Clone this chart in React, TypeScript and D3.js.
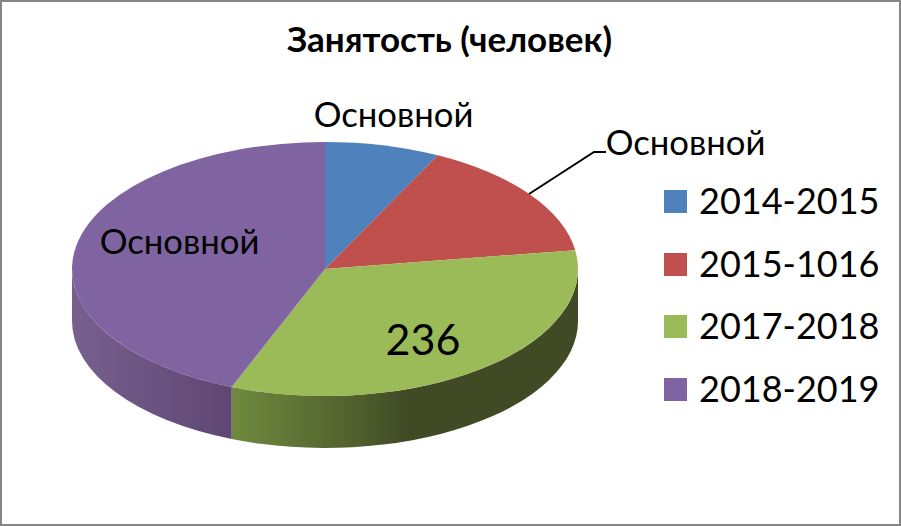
import React from 'react';
import * as d3 from 'd3';

const categories = ['2014-2015', '2015-1016', '2017-2018', '2018-2019'];
const values = [52, 108, 236, 311];
const colors = ['#4f81bd', '#c0504d', '#9bbb59', '#8064a2'];
const dataLabels = ['Основной', 'Основной', '236', 'Основной'];
const title = 'Занятость (человек)';

const W = 901, H = 526;
const cx = 325, cy = 269, rx = 253, ry = 127, depth = 52;
const FONT = 'Lato, "Open Sans", sans-serif';

const pie = d3.pie<number>().sort(null).startAngle(0).endAngle(2 * Math.PI);
const arcs = pie(values);
const arcGen = d3.arc<any>().innerRadius(0).outerRadius(rx);

const px = (a: number) => cx + rx * Math.sin(a);
const py = (a: number) => cy - ry * Math.cos(a);

function wall(a0: number, a1: number) {
  const s = Math.max(a0, Math.PI / 2), e = Math.min(a1, 1.5 * Math.PI);
  if (s >= e) return null;
  return `M${px(s)},${py(s)} A${rx},${ry} 0 0 1 ${px(e)},${py(e)} L${px(e)},${py(e) + depth} A${rx},${ry} 0 0 0 ${px(s)},${py(s) + depth} Z`;
}

const legendY = d3.scalePoint<string>().domain(categories).range([201, 389]);

export default function App() {
  return (
    <svg width={W} height={H} style={{ position: 'absolute', left: 0, top: 0 }} fontFamily={FONT}>
      <defs>
        <linearGradient id="g2" gradientUnits="userSpaceOnUse" x1={232} x2={578} y1={0} y2={0}>
          <stop offset="0" stopColor="#6f8a3f" />
          <stop offset="0.37" stopColor="#4f5e2c" />
          <stop offset="0.5" stopColor="#404b25" />
          <stop offset="1" stopColor="#404b25" />
        </linearGradient>
        <linearGradient id="g3" gradientUnits="userSpaceOnUse" x1={72} x2={232} y1={0} y2={0}>
          <stop offset="0" stopColor="#77608f" />
          <stop offset="1" stopColor="#5f4673" />
        </linearGradient>
      </defs>
      <rect x={1} y={1} width={W - 2} height={H - 2} fill="#fff" stroke="#868686" strokeWidth={2} />
      <text x={449.5} y={52} textAnchor="middle" fontSize={35} fontWeight={700} fill="#000">{title}</text>
      {arcs.map((d, i) => {
        const p = wall(d.startAngle, d.endAngle);
        return p ? <path key={i} d={p} fill={i === 2 ? 'url(#g2)' : i === 3 ? 'url(#g3)' : colors[i]} /> : null;
      })}
      <g transform={`translate(${cx},${cy}) scale(1,${ry / rx})`}>
        {arcs.map((d, i) => <path key={i} d={arcGen(d) as string} fill={colors[i]} />)}
      </g>
      <polyline points="529,194 594,152 606,152" fill="none" stroke="#000" strokeWidth={2} />
      <g fontSize={34.7} fill="#000">
        <text x={393.5} y={127} textAnchor="middle">{dataLabels[0]}</text>
        <text x={685.5} y={155} textAnchor="middle">{dataLabels[1]}</text>
        <text x={423} y={355} textAnchor="middle" fontSize={43}>{dataLabels[2]}</text>
        <text x={179.5} y={254} textAnchor="middle">{dataLabels[3]}</text>
      </g>
      {categories.map((c, i) => (
        <g key={c}>
          <rect x={664} y={Math.round((legendY(c) as number) - 11)} width={23} height={23} fill={colors[i]} />
          <text x={699} y={(legendY(c) as number) + 13} fontSize={36} fill="#000">{c}</text>
        </g>
      ))}
    </svg>
  );
}
